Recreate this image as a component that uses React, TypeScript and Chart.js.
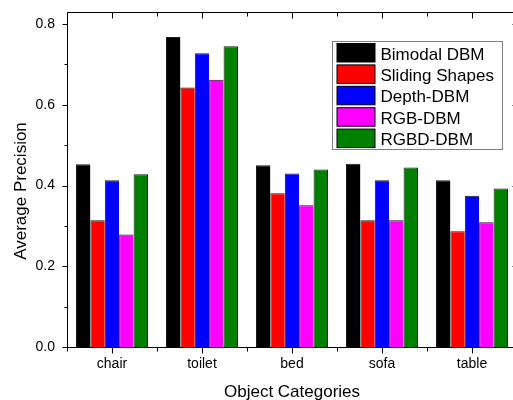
import React, { useEffect, useRef } from 'react';
import { Chart, registerables } from 'chart.js';

Chart.register(...registerables);

const categories = ['chair', 'toilet', 'bed', 'sofa', 'table'];
const seriesNames = ['Bimodal DBM', 'Sliding Shapes', 'Depth-DBM', 'RGB-DBM', 'RGBD-DBM'];
const bimodalDBM = [0.453, 0.768, 0.45, 0.454, 0.413];
const slidingShapes = [0.314, 0.643, 0.381, 0.314, 0.287];
const depthDBM = [0.413, 0.728, 0.43, 0.413, 0.375];
const rgbDBM = [0.279, 0.662, 0.351, 0.314, 0.309];
const rgbdDBM = [0.428, 0.745, 0.44, 0.445, 0.393];
const yTickValues = [0, 0.2, 0.4, 0.6, 0.8];
const yMinorTickValues = [0.1, 0.3, 0.5, 0.7];
const yAxisTitle = 'Average Precision';
const xAxisTitle = 'Object Categories';
const seriesColors = ['#000000', '#ff0000', '#0000ff', '#ff00ff', '#008000'];

const FONT = '"Liberation Sans", Arial, sans-serif';

const framePlugin = {
  id: 'framePlugin',
  afterDraw(chart: any) {
    const { ctx, chartArea, scales } = chart;
    const { left, right, top, bottom } = chartArea;
    const x = scales.x;
    const y = scales.y;
    ctx.save();
    ctx.strokeStyle = '#000';
    ctx.lineWidth = 1;
    ctx.strokeRect(left + 0.5, top + 0.5, right - left, bottom - top);
    ctx.beginPath();
    const yt = (v: number, len: number) => {
      const py = Math.round(y.getPixelForValue(v)) + 0.5;
      ctx.moveTo(left + 0.5, py);
      ctx.lineTo(left + 0.5 - len, py);
      ctx.moveTo(right + 0.5, py);
      ctx.lineTo(right + 0.5 - len, py);
    };
    yTickValues.forEach((v) => yt(v, 5));
    yMinorTickValues.forEach((v) => yt(v, 3));
    const step = x.getPixelForValue(1) - x.getPixelForValue(0);
    categories.forEach((_, i) => {
      const px = Math.round(x.getPixelForValue(i)) + 0.5;
      ctx.moveTo(px, bottom + 0.5);
      ctx.lineTo(px, bottom + 6.5);
      ctx.moveTo(px, top + 0.5);
      ctx.lineTo(px, top + 6.5);
    });
    for (let i = 0; i <= categories.length; i++) {
      const px = Math.round(x.getPixelForValue(0) - step / 2 + i * step) + 0.5;
      ctx.moveTo(px, bottom + 0.5);
      ctx.lineTo(px, bottom + 4.5);
      ctx.moveTo(px, top + 0.5);
      ctx.lineTo(px, top + 4.5);
    }
    ctx.stroke();

    ctx.fillStyle = '#000';
    ctx.font = `17px ${FONT}`;
    ctx.textAlign = 'center';
    ctx.textBaseline = 'alphabetic';
    ctx.fillText(xAxisTitle, (left + right) / 2, bottom + 50);
    ctx.save();
    ctx.translate(left - 41, (top + bottom) / 2 + 11.5);
    ctx.rotate(-Math.PI / 2);
    ctx.fillText(yAxisTitle, 0, 0);
    ctx.restore();

    const boxX = right - 184.5;
    const boxY = top + 29.5;
    const boxW = 170;
    const boxH = 108;
    ctx.fillStyle = '#fff';
    ctx.fillRect(boxX, boxY, boxW, boxH);
    ctx.strokeStyle = '#808080';
    ctx.strokeRect(boxX, boxY, boxW, boxH);
    ctx.textAlign = 'left';
    ctx.font = `17px ${FONT}`;
    chart.data.datasets.forEach((ds: any, i: number) => {
      const ry = boxY + 2 + i * 21.4;
      ctx.fillStyle = ds.backgroundColor;
      ctx.fillRect(boxX + 4.5, ry, 38, 18.5);
      ctx.strokeStyle = '#000';
      ctx.strokeRect(boxX + 4.5, ry, 38, 18.5);
      ctx.fillStyle = '#000';
      ctx.fillText(ds.label, boxX + 48, ry + 16);
    });
    ctx.restore();
  },
};

export default function App() {
  const canvasRef = useRef<HTMLCanvasElement>(null);

  useEffect(() => {
    const canvas = canvasRef.current;
    if (!canvas) return;
    const seriesData = [bimodalDBM, slidingShapes, depthDBM, rgbDBM, rgbdDBM];
    const chart = new Chart(canvas, {
      type: 'bar',
      data: {
        labels: categories,
        datasets: seriesData.map((d, i) => ({
          label: seriesNames[i],
          data: d,
          backgroundColor: seriesColors[i],
          borderColor: '#1a1a1a',
          borderWidth:
            i === seriesData.length - 1
              ? { top: 1, left: 1, right: 1, bottom: 0 }
              : { top: 1, left: 1, right: 0, bottom: 0 },
          borderSkipped: false,
          categoryPercentage: 0.8,
          barPercentage: 1.0,
        })),
      },
      options: {
        animation: false,
        responsive: false,
        devicePixelRatio: 1,
        layout: { padding: { left: 0, top: 12, right: 13, bottom: 0 } },
        plugins: {
          legend: { display: false },
          tooltip: { enabled: false },
        },
        scales: {
          x: {
            grid: { display: false, drawTicks: false },
            border: { display: false },
            ticks: {
              color: '#000',
              font: { family: FONT, size: 14 },
              padding: 9,
              maxRotation: 0,
            },
            afterFit: (s: any) => {
              s.height = 53;
              s.paddingLeft = 0;
              s.paddingRight = 0;
            },
          },
          y: {
            min: 0,
            max: 0.83,
            grid: { display: false, drawTicks: false },
            border: { display: false },
            afterBuildTicks: (s: any) => {
              s.ticks = yTickValues.map((v) => ({ value: v }));
            },
            ticks: {
              color: '#000',
              font: { family: FONT, size: 14 },
              padding: 12,
              callback: (v: any) => Number(v).toFixed(1),
            },
            afterFit: (s: any) => {
              s.width = 67;
              s.paddingTop = 0;
              s.paddingBottom = 0;
            },
          },
        },
      },
      plugins: [framePlugin],
    });
    return () => chart.destroy();
  }, []);

  return (
    <div
      style={{
        position: 'fixed',
        left: 0,
        top: 0,
        width: 513,
        height: 400,
        overflow: 'hidden',
        background: '#fff',
      }}
    >
      <canvas ref={canvasRef} width={530} height={400} style={{ display: 'block' }} />
    </div>
  );
}
